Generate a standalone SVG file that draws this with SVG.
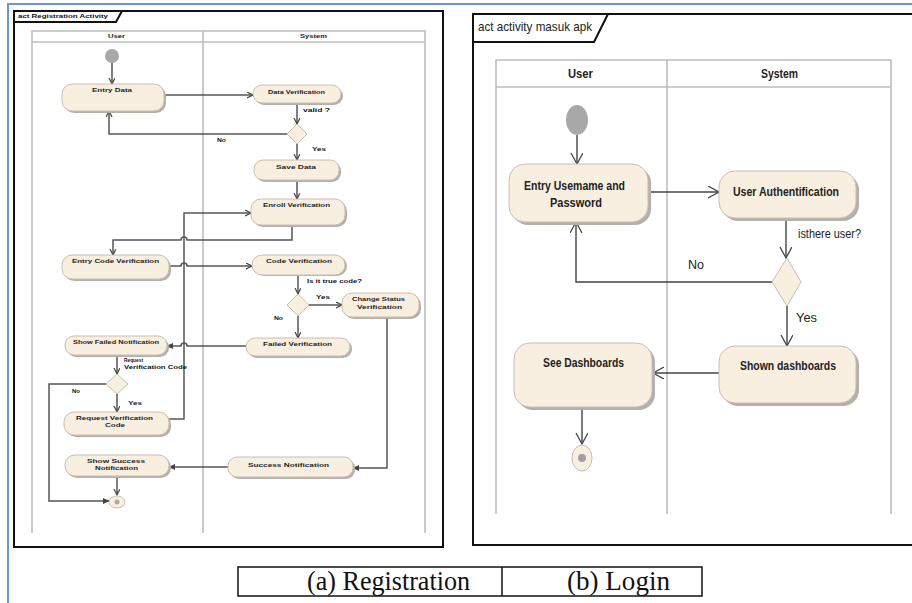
<svg xmlns="http://www.w3.org/2000/svg" width="912" height="603" viewBox="0 0 912 603">
<style>
.frame{fill:none;stroke:#111;stroke-width:2}
.lane{fill:none;stroke:#bdbdbd;stroke-width:1.6}
.node{fill:#f8efe1;stroke:#c9beb0;stroke-width:1}
.shadow{fill:#b4b0aa}
.c{fill:none;stroke:#555;stroke-width:1.5}
.cr{fill:none;stroke:#444;stroke-width:1.4}
.s{font-family:"Liberation Sans",Arial,sans-serif;font-size:6px;font-weight:bold;fill:#222}
.sl{font-family:"Liberation Sans",Arial,sans-serif;font-size:6px;font-weight:bold;fill:#111}
.r{font-family:"Liberation Sans Narrow","Liberation Sans",Arial,sans-serif;font-size:13px;font-weight:bold;fill:#222}
.rl{font-family:"Liberation Sans Narrow","Liberation Sans",Arial,sans-serif;font-size:13px;fill:#222}
.cap{font-family:"Liberation Serif","Times New Roman",serif;font-size:27px;fill:#111}
</style>
<defs>
<marker id="aL" markerUnits="userSpaceOnUse" markerWidth="8" markerHeight="8" refX="6" refY="3" orient="auto">
<path d="M0,0 L6,3 L0,6" fill="none" stroke="#444" stroke-width="1.2"/>
</marker>
<marker id="aLf" markerUnits="userSpaceOnUse" markerWidth="8" markerHeight="8" refX="6" refY="3" orient="auto">
<path d="M0,0.5 L6,3 L0,5.5 Z" fill="#444" stroke="#444" stroke-width="0.8"/>
</marker>
<marker id="aR" markerUnits="userSpaceOnUse" markerWidth="14" markerHeight="14" refX="11" refY="6" orient="auto">
<path d="M0,0 L11,6 L0,12" fill="none" stroke="#444" stroke-width="1.3"/>
</marker>
</defs>
<rect width="912" height="603" fill="#fff"/>
<path d="M8,603 V4 H912" fill="none" stroke="#6d95d1" stroke-width="2"/>

<!-- ===== Left: Registration ===== -->
<g id="reg-frame">
<rect class="frame" x="14" y="11" width="429" height="536"/>
<path class="frame" d="M14,22 H116 L122,11" stroke-width="1.5"/>
<text class="sl" x="18" y="18" textLength="90" lengthAdjust="spacingAndGlyphs">act Registration Activity</text>
</g>
<g id="reg-lanes">
<path class="lane" d="M32,533 V31 H425 V533 M32,42 H425 M203,31 V533"/>
<text class="s" x="108" y="38" textLength="17" lengthAdjust="spacingAndGlyphs">User</text>
<text class="s" x="300" y="38" textLength="27" lengthAdjust="spacingAndGlyphs">System</text>
</g>

<g id="reg-connectors">
<path class="c" d="M112,63 V84" marker-end="url(#aL)"/>
<path class="c" d="M164,95 H253" marker-end="url(#aL)"/>
<path class="c" d="M297,103 V124" marker-end="url(#aL)"/>
<path class="c" d="M287,134 H109 V111" marker-end="url(#aL)"/>
<path class="c" d="M297,144 V160" marker-end="url(#aL)"/>
<path class="c" d="M297,180 V199" marker-end="url(#aL)"/>
<path class="c" d="M292,225 V240 H187 A3,3 0 0 0 181,240 H113 V255" marker-end="url(#aL)"/>
<path class="c" d="M169,266 H181 A3,3 0 0 1 187,266 H252" marker-end="url(#aL)"/>
<path class="c" d="M298,275 V294" marker-end="url(#aL)"/>
<path class="c" d="M309,305 H342" marker-end="url(#aL)"/>
<path class="c" d="M298,316 V338" marker-end="url(#aL)"/>
<path class="c" d="M246,346 H187 A3,3 0 0 0 181,346 H167" marker-end="url(#aLf)"/>
<path class="c" d="M117,355 V374" marker-end="url(#aL)"/>
<path class="c" d="M117,394 V412" marker-end="url(#aL)"/>
<path class="c" d="M106,384 H49 V501 H109" marker-end="url(#aLf)"/>
<path class="c" d="M169,419 H184 V213 H251" marker-end="url(#aL)"/>
<path class="c" d="M387,317 V468 H353" marker-end="url(#aLf)"/>
<path class="c" d="M228,467 H169" marker-end="url(#aLf)"/>
<path class="c" d="M117,476 V495" marker-end="url(#aL)"/>
<text class="sl" x="303" y="112" textLength="27" lengthAdjust="spacingAndGlyphs">valid ?</text>
<text class="sl" x="312" y="151" textLength="14" lengthAdjust="spacingAndGlyphs">Yes</text>
<text class="sl" x="217" y="142" textLength="9" lengthAdjust="spacingAndGlyphs">No</text>
<text class="sl" x="307" y="283" textLength="55" lengthAdjust="spacingAndGlyphs">Is it true code?</text>
<text class="sl" x="316" y="299" textLength="14" lengthAdjust="spacingAndGlyphs">Yes</text>
<text class="sl" x="274" y="320" textLength="9" lengthAdjust="spacingAndGlyphs">No</text>
<text class="sl" x="124" y="362" textLength="19" lengthAdjust="spacingAndGlyphs">Request</text>
<text class="sl" x="124" y="369" textLength="63" lengthAdjust="spacingAndGlyphs">Verification Code</text>
<text class="sl" x="72" y="393" textLength="8" lengthAdjust="spacingAndGlyphs">No</text>
<text class="sl" x="128" y="405" textLength="14" lengthAdjust="spacingAndGlyphs">Yes</text>
</g>

<g id="reg-start"><circle cx="112" cy="56" r="7" fill="#a8a8a8"/></g>
<g id="reg-entry-data">
<rect class="shadow" x="64" y="86" width="102" height="27" rx="10"/>
<rect class="node" x="62" y="84" width="102" height="27" rx="10"/>
<text class="s" x="92" y="92" textLength="40" lengthAdjust="spacingAndGlyphs">Entry Data</text>
</g>
<g id="reg-data-verification">
<rect class="shadow" x="255" y="87" width="88" height="18" rx="9"/>
<rect class="node" x="253" y="85" width="88" height="18" rx="9"/>
<text class="s" x="268" y="94" textLength="57" lengthAdjust="spacingAndGlyphs">Data Verification</text>
</g>
<g id="reg-decision-valid"><polygon class="node" points="297,124 307,134 297,144 287,134"/></g>
<g id="reg-save-data">
<rect class="shadow" x="256" y="162" width="85" height="20" rx="9"/>
<rect class="node" x="254" y="160" width="85" height="20" rx="9"/>
<text class="s" x="276" y="169" textLength="40" lengthAdjust="spacingAndGlyphs">Save Data</text>
</g>
<g id="reg-enroll">
<rect class="shadow" x="253" y="201" width="94" height="26" rx="10"/>
<rect class="node" x="251" y="199" width="94" height="26" rx="10"/>
<text class="s" x="263" y="207" textLength="67" lengthAdjust="spacingAndGlyphs">Enroll Verification</text>
</g>
<g id="reg-entry-code">
<rect class="shadow" x="64" y="257" width="107" height="24" rx="10"/>
<rect class="node" x="62" y="255" width="107" height="24" rx="10"/>
<text class="s" x="72" y="263" textLength="87" lengthAdjust="spacingAndGlyphs">Entry Code Verification</text>
</g>
<g id="reg-code-verification">
<rect class="shadow" x="254" y="256" width="93" height="20" rx="10"/>
<rect class="node" x="252" y="255" width="93" height="20" rx="10"/>
<text class="s" x="266" y="263" textLength="66" lengthAdjust="spacingAndGlyphs">Code Verification</text>
</g>
<g id="reg-decision-code"><polygon class="node" points="298,294 309,305 298,316 287,305"/></g>
<g id="reg-change-status">
<rect class="shadow" x="344" y="295" width="77" height="24" rx="10"/>
<rect class="node" x="342" y="293" width="77" height="24" rx="10"/>
<text class="s" x="352" y="301" textLength="53" lengthAdjust="spacingAndGlyphs">Change Status</text>
<text class="s" x="357" y="309" textLength="45" lengthAdjust="spacingAndGlyphs">Verification</text>
</g>
<g id="reg-failed">
<rect class="shadow" x="248" y="340" width="104" height="18" rx="9"/>
<rect class="node" x="246" y="338" width="104" height="18" rx="9"/>
<text class="s" x="263" y="346" textLength="69" lengthAdjust="spacingAndGlyphs">Failed Verification</text>
</g>
<g id="reg-show-failed">
<rect class="shadow" x="67" y="338" width="102" height="19" rx="9"/>
<rect class="node" x="65" y="336" width="102" height="19" rx="9"/>
<text class="s" x="73" y="344" textLength="86" lengthAdjust="spacingAndGlyphs">Show Failed Notification</text>
</g>
<g id="reg-decision-request"><polygon class="node" points="117,374 128,384 117,394 106,384"/></g>
<g id="reg-request-code">
<rect class="shadow" x="66" y="414" width="105" height="23" rx="10"/>
<rect class="node" x="64" y="412" width="105" height="23" rx="10"/>
<text class="s" x="76" y="420" textLength="77" lengthAdjust="spacingAndGlyphs">Request Verification</text>
<text class="s" x="105" y="427" textLength="20" lengthAdjust="spacingAndGlyphs">Code</text>
</g>
<g id="reg-show-success">
<rect class="shadow" x="67" y="457" width="104" height="21" rx="10"/>
<rect class="node" x="65" y="455" width="104" height="21" rx="10"/>
<text class="s" x="87" y="463" textLength="58" lengthAdjust="spacingAndGlyphs">Show Success</text>
<text class="s" x="95" y="470" textLength="43" lengthAdjust="spacingAndGlyphs">Notification</text>
</g>
<g id="reg-success">
<rect class="shadow" x="230" y="459" width="125" height="20" rx="9"/>
<rect class="node" x="228" y="457" width="125" height="20" rx="9"/>
<text class="s" x="248" y="467" textLength="81" lengthAdjust="spacingAndGlyphs">Success Notification</text>
</g>
<g id="reg-end">
<ellipse class="node" cx="117" cy="502" rx="8" ry="6" stroke="#bbb"/>
<circle cx="117" cy="502" r="2.5" fill="#aaa"/>
</g>

<!-- ===== Right: Login ===== -->
<g id="login-frame">
<path class="frame" d="M913,14 H473 V545 H913"/>
<path class="frame" d="M473,42 H594 L608,14" stroke-width="1.6"/>
<text class="rl" x="478" y="31" textLength="114" lengthAdjust="spacingAndGlyphs">act activity masuk apk</text>
</g>
<g id="login-lanes">
<path class="lane" d="M496,514 V60 H891 V514 M496,87 H891 M667,60 V514" stroke-width="2"/>
<text class="r" x="568" y="78" textLength="25" lengthAdjust="spacingAndGlyphs">User</text>
<text class="r" x="761" y="78" textLength="37" lengthAdjust="spacingAndGlyphs">System</text>
</g>

<g id="login-connectors">
<path class="cr" d="M577,135 V164" marker-end="url(#aR)"/>
<path class="cr" d="M648,192 H719" marker-end="url(#aR)"/>
<path class="cr" d="M786,218 V258" marker-end="url(#aR)"/>
<path class="cr" d="M772,282 H576 V222" marker-end="url(#aR)"/>
<path class="cr" d="M787,306 V346" marker-end="url(#aR)"/>
<path class="cr" d="M719,373 H653" marker-end="url(#aR)"/>
<path class="cr" d="M582,406 V444" marker-end="url(#aR)"/>
<text class="rl" x="798" y="238" textLength="63" lengthAdjust="spacingAndGlyphs">isthere user?</text>
<text class="rl" x="688" y="269" textLength="16" lengthAdjust="spacingAndGlyphs">No</text>
<text class="rl" x="796" y="322" textLength="21" lengthAdjust="spacingAndGlyphs">Yes</text>
</g>

<g id="login-start"><ellipse cx="577" cy="120" rx="11" ry="15" fill="#a8a8a8"/></g>
<g id="login-entry">
<rect class="shadow" x="512" y="167" width="139" height="58" rx="16"/>
<rect class="node" x="509" y="164" width="139" height="58" rx="16"/>
<text class="r" x="524" y="190" textLength="101" lengthAdjust="spacingAndGlyphs">Entry Usemame and</text>
<text class="r" x="550" y="207" textLength="52" lengthAdjust="spacingAndGlyphs">Password</text>
</g>
<g id="login-auth">
<rect class="shadow" x="722" y="174" width="137" height="47" rx="16"/>
<rect class="node" x="719" y="171" width="137" height="47" rx="16"/>
<text class="r" x="733" y="196" textLength="106" lengthAdjust="spacingAndGlyphs">User Authentification</text>
</g>
<g id="login-decision"><polygon class="node" points="787,258 801,282 787,306 772,282"/></g>
<g id="login-shown">
<rect class="shadow" x="722" y="349" width="137" height="57" rx="16"/>
<rect class="node" x="719" y="346" width="137" height="57" rx="16"/>
<text class="r" x="740" y="370" textLength="96" lengthAdjust="spacingAndGlyphs">Shown dashboards</text>
</g>
<g id="login-see">
<rect class="shadow" x="517" y="346" width="138" height="64" rx="16"/>
<rect class="node" x="514" y="343" width="138" height="64" rx="16"/>
<text class="r" x="543" y="367" textLength="81" lengthAdjust="spacingAndGlyphs">See Dashboards</text>
</g>
<g id="login-end">
<ellipse class="node" cx="582" cy="458" rx="10" ry="13" stroke="#c8c0b4" stroke-width="1.5"/>
<circle cx="582" cy="458" r="4" fill="#a0a0a0"/>
</g>

<!-- ===== Caption ===== -->
<g id="caption">
<rect x="238" y="567" width="464" height="29" fill="none" stroke="#111" stroke-width="1.5"/>
<line x1="502" y1="567" x2="502" y2="596" stroke="#111" stroke-width="1.5"/>
<text class="cap" x="307" y="590" textLength="163" lengthAdjust="spacingAndGlyphs">(a) Registration</text>
<text class="cap" x="567" y="590" textLength="103" lengthAdjust="spacingAndGlyphs">(b) Login</text>
</g>
</svg>
